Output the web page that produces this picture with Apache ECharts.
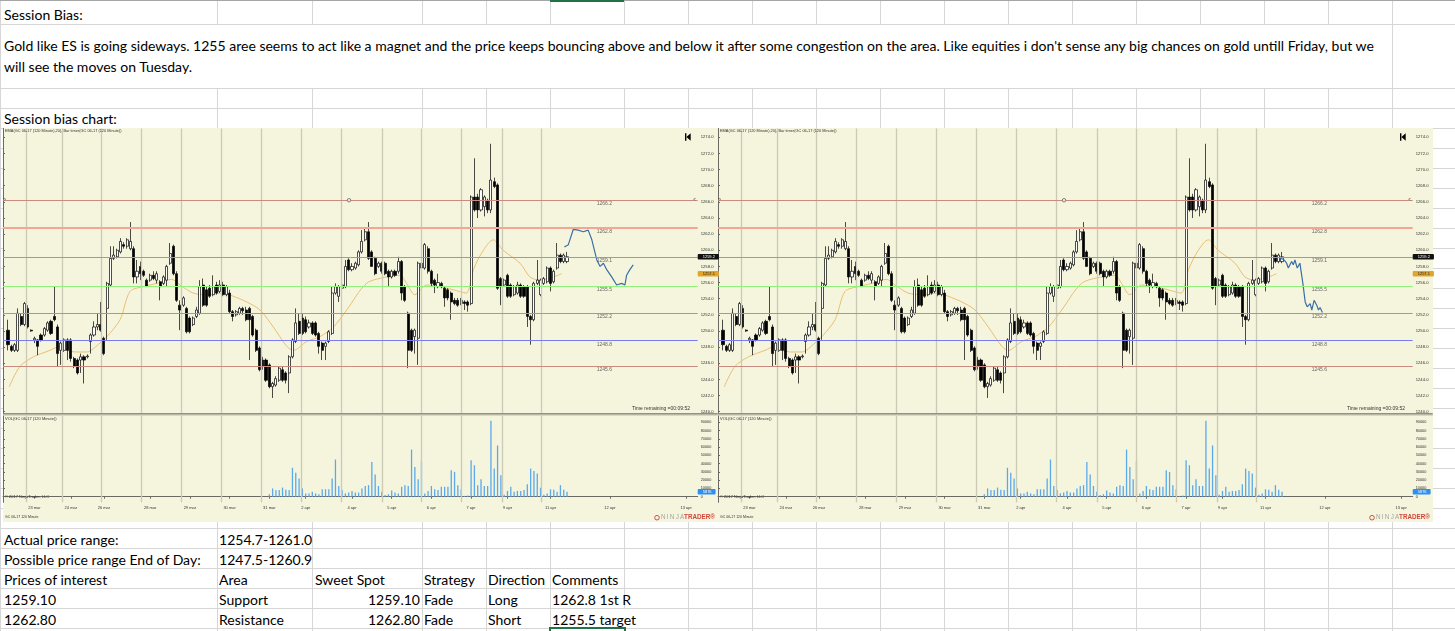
<!DOCTYPE html>
<html>
<head>
<meta charset="utf-8">
<script src="https://cdn.jsdelivr.net/npm/echarts@6/dist/echarts.min.js"></script>
<style>
  html, body { margin: 0; padding: 0; background: #fff; }
  #sheet { position: absolute; left: 0; top: 0; width: 1455px; height: 631px; overflow: hidden; }
  #chart { position: absolute; left: 0; top: 0; width: 1455px; height: 631px; }
</style>
</head>
<body>
<div id="sheet"></div>
<div id="chart"></div>
<script>
// ---- data ----
// candles: [open, close, low, high], 120 minute bars GC 06-17
const candles = [
  [1250.1,1248.3,1247.6,1251.4],[1248.1,1247.6,1247.4,1248.3],[1247.6,1248.3,1247.4,1248.5],[1247.6,1252.2,1247.4,1252.8],
  [1251.8,1250.8,1250.6,1252.2],[1250.8,1253.4,1250.6,1253.6],[1252.8,1250.5,1250.3,1253.2],[1250.1,1250.0,1249.9,1250.2],
  [1248.9,1249.1,1248.5,1249.3],[1248.9,1248.1,1247.0,1249.0],[1249.5,1248.9,1248.7,1249.7],[1249.5,1250.3,1249.3,1250.5],
  [1250.1,1251.0,1249.9,1251.2],[1251.2,1249.7,1249.5,1251.4],[1251.8,1251.4,1251.2,1255.5],[1250.5,1247.2,1245.6,1250.8],
  [1247.6,1248.5,1245.8,1248.7],[1247.6,1248.9,1247.4,1249.1],[1248.9,1247.6,1246.4,1249.1],[1248.9,1246.6,1246.2,1249.1],
  [1246.6,1245.6,1245.4,1246.8],[1246.4,1244.8,1244.6,1246.6],[1246.4,1246.8,1244.8,1247.2],[1246.8,1246.4,1243.5,1247.0],
  [1246.8,1246.9,1246.6,1247.1],[1248.7,1249.5,1247.2,1249.7],[1249.5,1250.5,1249.3,1251.2],[1250.5,1250.8,1250.1,1252.2],
  [1250.8,1250.1,1249.9,1253.6],[1249.1,1247.2,1247.0,1249.3],[1252.8,1255.9,1248.9,1256.1],[1255.7,1259.0,1255.5,1260.5],
  [1259.0,1259.4,1258.8,1260.5],[1259.2,1260.0,1259.0,1260.2],[1259.8,1261.1,1259.6,1261.5],[1260.7,1260.5,1260.2,1261.0],
  [1260.5,1261.3,1260.2,1261.5],[1260.2,1261.1,1260.0,1263.5],[1260.2,1256.7,1255.9,1260.5],[1256.7,1257.4,1255.9,1258.8],
  [1258.0,1257.1,1256.3,1258.6],[1257.4,1256.9,1256.7,1257.6],[1256.3,1255.5,1255.5,1256.5],[1256.3,1256.9,1256.1,1257.1],
  [1256.9,1256.5,1256.3,1257.4],[1256.3,1257.1,1255.9,1257.4],[1256.1,1255.5,1253.8,1256.3],[1255.9,1256.7,1255.7,1256.9],
  [1256.3,1258.0,1255.5,1258.2],[1258.4,1259.6,1258.2,1260.9],[1260.5,1257.1,1256.9,1260.7],[1257.1,1253.8,1253.6,1257.4],
  [1253.2,1252.6,1250.1,1253.8],[1253.2,1254.1,1253.0,1254.3],[1252.8,1249.9,1249.7,1253.0],[1251.6,1249.9,1249.7,1251.8],
  [1250.8,1251.6,1250.6,1251.8],[1251.8,1252.6,1251.6,1253.0],[1252.2,1255.5,1252.0,1256.3],[1255.7,1253.2,1253.0,1256.5],
  [1255.1,1253.2,1253.0,1255.5],[1255.3,1254.3,1254.1,1255.7],[1254.5,1255.5,1254.3,1256.9],[1255.7,1254.7,1254.5,1256.1],
  [1254.9,1255.7,1254.7,1256.3],[1255.7,1254.5,1254.3,1256.1],[1254.5,1255.5,1254.3,1255.7],[1254.7,1252.4,1252.2,1255.1],
  [1252.4,1251.8,1251.2,1252.6],[1252.0,1252.4,1251.8,1252.6],[1252.2,1252.8,1252.0,1253.0],[1252.8,1252.5,1252.0,1253.0],
  [1252.6,1251.4,1251.2,1253.0],[1252.8,1251.4,1246.4,1253.0],[1251.8,1249.5,1249.3,1252.0],[1250.1,1247.6,1247.4,1250.3],
  [1247.9,1245.2,1245.0,1248.1],[1246.4,1245.6,1245.2,1246.8],[1246.4,1243.9,1243.7,1246.6],[1245.8,1243.1,1242.9,1246.0],
  [1243.1,1243.5,1241.7,1243.7],[1243.3,1244.1,1243.1,1244.4],[1243.9,1245.4,1243.7,1245.6],[1245.2,1243.9,1243.7,1245.6],
  [1244.8,1243.9,1243.5,1245.0],[1244.8,1246.8,1242.3,1247.0],[1246.8,1248.9,1246.6,1249.1],[1248.7,1251.0,1248.5,1252.8],
  [1251.2,1249.7,1249.5,1252.2],[1251.6,1249.7,1249.5,1252.2],[1251.4,1249.9,1249.7,1251.8],[1250.5,1251.0,1250.3,1251.4],
  [1251.0,1249.7,1249.5,1251.2],[1251.0,1249.5,1249.3,1251.2],[1249.7,1248.1,1247.2,1249.9],[1248.5,1247.6,1246.4,1248.7],
  [1248.1,1248.5,1246.4,1248.7],[1248.7,1249.9,1248.5,1250.1],[1249.7,1254.7,1249.5,1255.5],[1254.7,1255.5,1254.5,1255.9],
  [1254.3,1255.5,1253.6,1255.7],[1255.3,1255.7,1255.1,1255.9],[1255.5,1258.0,1255.3,1258.8],[1258.8,1257.6,1257.4,1259.0],
  [1257.6,1258.0,1257.4,1258.4],[1257.8,1258.4,1257.6,1258.6],[1258.2,1259.8,1258.0,1260.0],[1259.8,1261.1,1259.6,1262.5],
  [1261.3,1262.3,1261.1,1262.8],[1262.3,1259.0,1258.8,1263.5],[1259.8,1258.0,1258.0,1260.0],[1259.0,1257.1,1256.9,1259.2],
  [1258.0,1258.4,1257.8,1258.6],[1258.4,1257.4,1257.1,1258.6],[1258.4,1257.1,1256.9,1258.6],[1257.4,1256.7,1255.5,1257.6],
  [1256.7,1257.4,1256.5,1257.6],[1257.4,1256.9,1256.7,1257.6],[1257.4,1258.6,1257.1,1259.2],[1258.6,1254.7,1253.8,1258.8],
  [1255.5,1253.8,1253.6,1255.7],[1252.2,1247.6,1245.4,1252.4],[1250.1,1247.6,1247.4,1250.3],[1249.3,1250.1,1247.2,1250.3],
  [1249.1,1258.4,1245.8,1258.6],[1257.8,1258.4,1257.6,1258.6],[1257.8,1260.7,1257.6,1260.9],[1260.2,1257.4,1257.1,1260.5],
  [1257.4,1255.9,1255.5,1257.6],[1256.3,1255.7,1254.7,1256.5],[1255.5,1256.0,1255.3,1257.1],[1255.9,1255.5,1255.3,1256.1],
  [1255.3,1254.1,1253.0,1255.5],[1255.1,1254.1,1253.8,1255.3],[1254.7,1253.6,1251.4,1254.9],[1253.8,1253.4,1253.2,1254.1],
  [1253.8,1253.2,1253.0,1254.1],[1253.4,1253.8,1253.2,1254.1],[1253.6,1253.4,1252.6,1253.8],[1253.6,1253.2,1252.4,1253.8],
  [1253.4,1266.6,1253.2,1266.8],[1266.6,1265.0,1264.8,1271.4],[1266.6,1265.0,1264.0,1267.0],[1265.0,1267.5,1264.8,1267.7],
  [1265.4,1266.6,1264.2,1266.8],[1266.2,1265.0,1264.6,1266.4],[1265.0,1268.7,1264.6,1273.2],[1268.5,1267.9,1267.7,1269.0],
  [1268.1,1255.3,1255.1,1268.3],[1256.5,1255.5,1253.2,1256.7],[1255.7,1256.3,1255.5,1256.5],[1256.9,1254.3,1254.1,1257.1],
  [1255.7,1254.3,1254.1,1255.9],[1254.5,1255.5,1254.3,1255.7],[1254.7,1255.7,1254.5,1256.1],[1255.7,1254.3,1254.1,1255.9],
  [1255.5,1254.3,1254.1,1255.7],[1255.5,1251.8,1250.5,1255.7],[1251.8,1251.4,1248.3,1252.0],[1251.4,1255.9,1251.2,1256.1],
  [1255.9,1256.3,1255.7,1258.8],[1254.5,1256.3,1254.3,1256.5],[1255.9,1256.5,1255.7,1256.7],[1256.1,1257.8,1255.9,1258.0],
  [1257.8,1255.9,1254.9,1258.0],[1256.1,1257.4,1255.9,1257.6],[1257.8,1259.4,1257.6,1260.9],[1259.4,1258.6,1258.4,1259.6],
  [1258.6,1259.4,1258.4,1259.6],[1258.6,1259.2,1258.4,1259.8]
];

// volume of the last bars (earlier bars carry no volume on the chart)
const volumes = [
  3000,10000,8000,8000,11000,8500,8000,35000,29000,22000,
  10000,4000,4000,6000,4000,3000,9000,9000,9000,22000,
  45000,13000,8000,4000,5000,7000,5000,5000,10000,13000,
  14000,42000,27000,13000,6000,2000,3000,7500,5000,4000,
  12000,14000,13000,57000,36000,21000,43000,4000,7000,13000,
  9000,8000,12000,12000,12000,32000,30000,14000,9000,1000,
  1500,44000,38000,14000,21000,13000,13000,92000,34000,62000,
  26000,2500,7000,12000,6000,7000,7000,8000,15000,34000,
  31000,28000,11000,2500,4000,9000,8500,6000,14000,8500,5876
];

// EMA(20) read as [bar position, price]
const emaPos = [0.4,3.6,7.7,12.7,15.7,17.8,20.8,23.8,27.8,29.9,33.9,36.9,40.9,45.0,49.5,52.0,56.0,60.1,65.1,68.1,
  72.2,76.2,80.2,84.3,86.3,90.3,94.3,98.4,102.4,108.4,114.5,118.5,120.5,123.0,126.6,130.6,134.6,138.5,140.7,143.7,
  146.7,149.7,154.8,157.8,160.8,164.9,167.4];
const emaVal = [1243.1,1245.6,1246.8,1247.6,1248.1,1247.6,1247.4,1247.4,1248.5,1249.3,1251.4,1254.9,1255.5,1255.9,1256.4,1255.7,1254.7,1254.5,1254.7,1254.3,
  1253.6,1252.6,1250.5,1248.1,1247.6,1248.7,1249.3,1250.5,1252.6,1255.9,1256.7,1256.9,1255.9,1254.5,1255.7,1255.5,1255.1,1254.7,1257.6,1260.0,
  1261.3,1260.0,1258.4,1256.7,1256.3,1256.7,1257.1];

// hand drawn projections (left chart and right chart)
const fcLeftPos = [168.2,169.4,170.9,172.4,173.9,175.4,176.5,178.0,179.0,180.0,181.0,182.5,184.0,185.5,186.5,187.0,188.0,189.0];
const fcLeftVal = [1260.4,1260.7,1262.6,1262.5,1262.3,1262.5,1261.3,1258.8,1258.0,1258.4,1257.6,1256.7,1255.7,1255.9,1255.7,1256.9,1257.6,1258.2];
const fcRightPos = [168.4,169.4,170.4,170.9,171.9,172.4,172.9,173.6,174.4,175.3,176.0,176.6,177.5,178.0,178.7,179.5,180.0,180.5,181.2];
const fcRightVal = [1259.0,1258.9,1258.4,1257.8,1258.6,1258.2,1258.8,1257.8,1258.4,1255.9,1253.6,1253.0,1253.4,1252.6,1253.8,1253.2,1252.6,1252.9,1252.3];

const levels = [1266.2, 1262.8, 1259.1, 1255.5, 1252.2, 1248.8, 1245.6];
const lastPrice = 1259.2, lastEma = 1257.1, lastVol = 5876;

const priceTicks = [1240,1242,1244,1246,1248,1250,1252,1254,1256,1258,1260,1262,1264,1266,1268,1270,1272,1274];
const volTicks = [0,10000,20000,30000,40000,50000,60000,70000,80000,90000];
const dateLabels = ['23 mar','24 mar','26 mar','28 mar','29 mar','30 mar','31 mar','2 apr','4 apr','5 apr','6 apr','7 apr','9 apr','11 apr','12 apr','13 apr'];
const dateSlots = [9,20,30,44,56,68,80,91,105,117,129,141,152,165,183,206];
const sessionBreaks = [5.45,16.5,28.3,40.4,52.5,64.6,76.7,88.8,100.9,113.0,125.0,137.1,149.4,161.3];

// ---- spreadsheet around the charts ----
const paraLine1 = "Gold like ES is going sideways. 1255 aree seems to act like a magnet and the price keeps bouncing above and below it after some congestion on the area. Like equities i don't sense any big chances on gold untill Friday, but we";
const paraLine2 = "will see the moves on Tuesday.";
const sheetTexts = [
  [4, 20.7, 'Session Bias:'],
  [4, 51.7, paraLine1],
  [4, 72.7, paraLine2],
  [4, 124.8, 'Session bias chart:'],
  [4, 545, 'Actual price range:'], [219, 545, '1254.7-1261.0'],
  [4, 565, 'Possible price range End of Day:'], [219, 565, '1247.5-1260.9'],
  [4, 585, 'Prices of interest'], [219, 585, 'Area'], [315, 585, 'Sweet Spot'], [424, 585, 'Strategy'], [488, 585, 'Direction'], [552, 585, 'Comments'],
  [4, 605, '1259.10'], [219, 605, 'Support'], [420, 605, '1259.10', 'right'], [424, 605, 'Fade'], [488, 605, 'Long'], [552, 605, '1262.8 1st R'],
  [4, 625, '1262.80'], [219, 625, 'Resistance'], [420, 625, '1262.80', 'right'], [424, 625, 'Fade'], [488, 625, 'Short'], [552, 625, '1255.5 target']
];
const rowLines = [24,88,108,128,148,168,188,208,228,248,268,288,308,328,348,368,388,408,428,448,468,488,508,528,548,568,588,608,628];
const colLines = [0,217,312,422,486,550,624,688,752,816,880,944,1008,1072,1136,1200,1264,1328,1392];

const sheet = document.getElementById('sheet');
function box(css) {
  const d = document.createElement('div');
  d.style.cssText = 'position:absolute;' + css;
  sheet.appendChild(d);
  return d;
}
rowLines.forEach(y => box(`left:0;top:${y}px;width:1455px;height:1px;background:#d6d6d6`));
colLines.forEach(x => {
  // gaps: merged text row, and the cell the last comment spills over
  let gaps = [];
  if (x > 0 && x < 1392) gaps.push([25, 88]);
  if (x === 624) gaps.push([609, 628]);
  let y0 = 0;
  gaps.forEach(g => { box(`left:${x}px;top:${y0}px;width:1px;height:${g[0]-y0}px;background:#d6d6d6`); y0 = g[1]; });
  box(`left:${x}px;top:${y0}px;width:1px;height:${631-y0}px;background:#d6d6d6`);
});
box('left:0;top:0;width:1455px;height:1px;background:#a5a5a5');
box('left:550px;top:0;width:74px;height:2px;background:#217346');
box('left:3px;top:127.7px;width:715px;height:394px;background:#f5f5de');
box('left:718px;top:127.7px;width:714.7px;height:394px;background:#f5f5de');
box('left:549px;top:627px;width:77px;height:12px;border:2px solid #217346;box-sizing:border-box');

// fit Lato to the width the Calibri paragraph takes
const ctx = document.createElement('canvas').getContext('2d');
ctx.font = '100px Lato';
const fs = 100 * 1373 / ctx.measureText(paraLine1).width;
sheetTexts.forEach(t => {
  const pos = t[3] === 'right' ? `right:${1455 - t[0]}px` : `left:${t[0]}px`;
  const d = box(`${pos};top:${t[1] - 10 - 0.387 * fs}px;height:20px;line-height:20px;white-space:nowrap;font-family:Lato,sans-serif;font-size:${fs}px;color:#000`);
  d.textContent = t[2];
});

// ---- charts ----
const N = 210;                 // bar slots across the plot
const PLOT_W = 694.7;
const PRICE_TOP = 128.5, PRICE_H = 284.5, PRICE_MIN = 1239.84, PRICE_MAX = 1275.09;
const VOL_TOP = 415.8, VOL_H = 86.5, VOL_MIN = -6774, VOL_MAX = 97863;
const LABEL_POS = 180.3, HANDLE_POS = 103.1;
const FONT = 'Liberation Sans';
const slots = [];
for (let i = 0; i < N; i++) slots.push(String(i));
const labelAt = {};
dateSlots.forEach((s, i) => { labelAt[s] = dateLabels[i]; });
const volStart = candles.length - volumes.length;

const levelColors = ['#c98b80', '#f3a596', '#c98b80', '#8ff07a', '#c98b80', '#7b7bf0', '#c98b80'];
const levelWidths = [1, 2, 1, 1.2, 1, 1.2, 1];

const option = {
  backgroundColor: 'transparent',
  animation: false,
  grid: [], xAxis: [], yAxis: [], series: [],
  graphic: { elements: [] }
};

function tagLine(value, text, bg, fg) {
  return {
    yAxis: value,
    lineStyle: { color: 'rgba(0,0,0,0)', width: 0 },
    label: {
      show: true, position: 'end', distance: 0, formatter: text,
      backgroundColor: bg, color: fg, fontSize: 4, fontFamily: FONT,
      padding: [1, 4, 0.5, 5], borderRadius: 1, opacity: 1
    }
  };
}

function addChart(c, fcPos, fcVal) {
  const ox = 3 + 715 * c;
  const g = option.grid.length;
  option.grid.push({ left: ox, top: PRICE_TOP, width: PLOT_W, height: PRICE_H, containLabel: false, outerBoundsMode: 'none' });
  option.grid.push({ left: ox, top: VOL_TOP, width: PLOT_W, height: VOL_H, containLabel: false, outerBoundsMode: 'none' });

  const x = option.xAxis.length;
  option.xAxis.push({ type: 'category', gridIndex: g, data: slots, boundaryGap: true, show: false });
  option.xAxis.push({
    type: 'category', gridIndex: g + 1, data: slots, boundaryGap: true,
    axisLine: { show: true, lineStyle: { color: '#6a6a62', width: 1 } },
    axisTick: { show: true, length: 2, alignWithLabel: true, interval: i => labelAt[i] !== undefined, lineStyle: { color: '#6a6a62' } },
    axisLabel: { show: true, interval: i => labelAt[i] !== undefined, formatter: (v, i) => labelAt[i] || '', fontSize: 4, fontFamily: FONT, color: '#333', margin: 4 },
    splitLine: { show: false }
  });
  option.xAxis.push({ type: 'value', gridIndex: g, min: 0, max: N, show: false });
  option.xAxis.push({ type: 'value', gridIndex: g + 1, min: 0, max: N, show: false });

  const y = option.yAxis.length;
  option.yAxis.push({
    type: 'value', gridIndex: g, position: 'right', min: PRICE_MIN, max: PRICE_MAX,
    axisLine: { show: true, lineStyle: { color: '#6a6a62', width: 1 } },
    axisTick: { show: true, length: 2, customValues: priceTicks, lineStyle: { color: '#6a6a62' } },
    axisLabel: { show: true, customValues: priceTicks, formatter: v => v.toFixed(1), fontSize: 4.2, fontFamily: FONT, color: '#333', margin: 3 },
    splitLine: { show: false }
  });
  option.yAxis.push({
    type: 'value', gridIndex: g + 1, position: 'right', min: VOL_MIN, max: VOL_MAX,
    axisLine: { show: true, lineStyle: { color: '#6a6a62', width: 1 } },
    axisTick: { show: true, length: 2, customValues: volTicks, lineStyle: { color: '#6a6a62' } },
    axisLabel: { show: true, customValues: volTicks, formatter: v => String(Math.round(v)), fontSize: 3.8, fontFamily: FONT, color: '#333', margin: 3 },
    splitLine: { show: false }
  });

  // EMA, carrying the session lines and the price levels
  option.series.push({
    type: 'line', xAxisIndex: x + 2, yAxisIndex: y, z: 2, silent: true,
    data: emaPos.map((p, i) => [p + 1.5, emaVal[i]]),
    symbol: 'none', smooth: 0.3,
    lineStyle: { color: '#e9be70', width: 1 },
    markLine: {
      silent: true, symbol: ['none', 'none'], animation: false,
      label: { show: false },
      lineStyle: { type: 'solid' },
      data: sessionBreaks.map(p => ({ xAxis: p + 1.5, lineStyle: { color: '#cbcab7', width: 1.3, type: 'solid' } }))
        .concat(levels.map((v, i) => ({ yAxis: v, lineStyle: { color: levelColors[i], width: levelWidths[i], type: 'solid' } })))
    }
  });
  option.series.push({
    type: 'candlestick', xAxisIndex: x, yAxisIndex: y, z: 3, silent: true,
    data: candles.map((d, i) => [i + 1, d[0], d[1], d[2], d[3]]),
    encode: { x: 0, y: [1, 2, 3, 4] },
    barWidth: 2.6,
    itemStyle: { color: '#ffffff', color0: '#000000', borderColor: '#000000', borderColor0: '#000000', borderColorDoji: '#000000', borderWidth: 0.7 }
  });
  option.series.push({
    type: 'line', xAxisIndex: x + 2, yAxisIndex: y, z: 4, silent: true,
    data: fcPos.map((p, i) => [p + 1.5, fcVal[i]]),
    symbol: 'none', lineStyle: { color: '#3b6ea6', width: 1.2 }
  });
  // level captions and the drawing handle
  option.series.push({
    type: 'scatter', xAxisIndex: x + 2, yAxisIndex: y, z: 5, silent: true,
    data: levels.map(v => [LABEL_POS + 1.5, v]),
    symbolSize: 1, itemStyle: { color: 'rgba(0,0,0,0)' },
    label: { show: true, position: 'bottom', distance: 0.5, formatter: p => p.value[1].toFixed(1), fontSize: 5, fontFamily: FONT, color: '#444' }
  });
  option.series.push({
    type: 'scatter', xAxisIndex: x + 2, yAxisIndex: y, z: 5, silent: true,
    data: [[HANDLE_POS + 1.5, levels[0]]],
    symbol: 'circle', symbolSize: 3.5,
    itemStyle: { color: '#f5f5de', borderColor: '#444', borderWidth: 0.8 }
  });
  // current value tags on the price axis
  option.series.push({
    type: 'line', xAxisIndex: x + 2, yAxisIndex: y, z: 6, silent: true,
    data: [[0, PRICE_MIN]], symbol: 'none', lineStyle: { width: 0 },
    markLine: {
      silent: true, symbol: ['none', 'none'], animation: false,
      data: [tagLine(lastPrice, lastPrice.toFixed(1), '#111', '#fff'), tagLine(lastEma, lastEma.toFixed(1), '#e2a52c', '#222')]
    }
  });

  // volume
  option.series.push({
    type: 'line', xAxisIndex: x + 3, yAxisIndex: y + 1, z: 1, silent: true,
    data: [[0, 0]], symbol: 'none', lineStyle: { width: 0 },
    markLine: {
      silent: true, symbol: ['none', 'none'], animation: false, label: { show: false },
      data: sessionBreaks.map(p => ({ xAxis: p + 1.5, lineStyle: { color: '#cbcab7', width: 1.3, type: 'solid' } }))
    }
  });
  option.series.push({
    type: 'line', xAxisIndex: x + 3, yAxisIndex: y + 1, z: 6, silent: true,
    data: [[0, 0]], symbol: 'none', lineStyle: { width: 0 },
    markLine: {
      silent: true, symbol: ['none', 'none'], animation: false,
      data: [tagLine(lastVol, String(lastVol), '#2f8ff0', '#fff')]
    }
  });
  option.series.push({
    type: 'bar', xAxisIndex: x + 1, yAxisIndex: y + 1, z: 3, silent: true,
    data: volumes.map((v, i) => [volStart + i + 1, v]),
    encode: { x: 0, y: 1 },
    barWidth: 1.3, itemStyle: { color: '#5aa9ec' }
  });

  // chrome of the NinjaTrader window
  const el = option.graphic.elements;
  const txt = (tx, ty, s, size, fill, align, weight) => el.push({
    type: 'text', silent: true, z: 50,
    style: { text: s, x: tx, y: ty, fill: fill, fontSize: size, fontFamily: FONT, fontWeight: weight || 'normal', align: align || 'left', verticalAlign: 'middle' }
  });
  el.push({ type: 'rect', silent: true, z: 40, shape: { x: ox, y: 413.2, width: 714.7, height: 1.2 }, style: { fill: '#6f6f66' } });
  el.push({ type: 'rect', silent: true, z: 40, shape: { x: ox, y: 414.6, width: 714.7, height: 1 }, style: { fill: '#bdbcaa' } });
  el.push({ type: 'rect', silent: true, z: 50, shape: { x: ox + 682, y: 133.3, width: 1.4, height: 7.4 }, style: { fill: '#000' } });
  el.push({ type: 'polygon', silent: true, z: 50, shape: { points: [[ox + 687.7, 133.3], [ox + 683.4, 137], [ox + 687.7, 140.7]] }, style: { fill: '#000' } });
  txt(ox + 2, 131, 'EMA(GC 06-17 (120 Minute),20), Bar timer(GC 06-17 (120 Minute))', 3.9, '#333');
  txt(ox + 687, 408.3, 'Time remaining =00:09:52', 5, '#333', 'right');
  txt(ox + 2, 419.3, 'VOL(GC 06-17 (120 Minute))', 4, '#333');
  txt(ox + 2, 497.3, '\u00a9 2017 NinjaTrader, LLC', 4, '#333');
  txt(ox + 2, 517.3, 'GC 06-17 120 Minute', 3.5, '#333');
  // line end markers of the 1266.2 drawing
  txt(ox + 693, levelsY(levels[0]), '<', 4.5, '#333', 'right');
  txt(ox + 0.5, levelsY(levels[0]), '>', 4.5, '#333');
  el.push({ type: 'circle', silent: true, z: 50, shape: { cx: ox + 654, cy: 517.7, r: 2.3 }, style: { fill: 'none', stroke: '#c8443a', lineWidth: 0.9 } });
  txt(ox + 658, 517.7, 'N\u2009I\u2009N\u2009J\u2009A', 6.3, '#a3a3a3');
  txt(ox + 712, 517.7, 'TRADER\u00ae', 6.3, '#d0463a', 'right', 'bold');
}

// pixel row of a price inside the price panel (for the small drawing markers)
function levelsY(v) {
  return PRICE_TOP + (PRICE_MAX - v) / (PRICE_MAX - PRICE_MIN) * PRICE_H;
}

addChart(0, fcLeftPos, fcLeftVal);
addChart(1, fcRightPos, fcRightVal);

const chart = echarts.init(document.getElementById('chart'), null, { renderer: 'canvas' });
chart.setOption(option);
</script>
</body>
</html>
